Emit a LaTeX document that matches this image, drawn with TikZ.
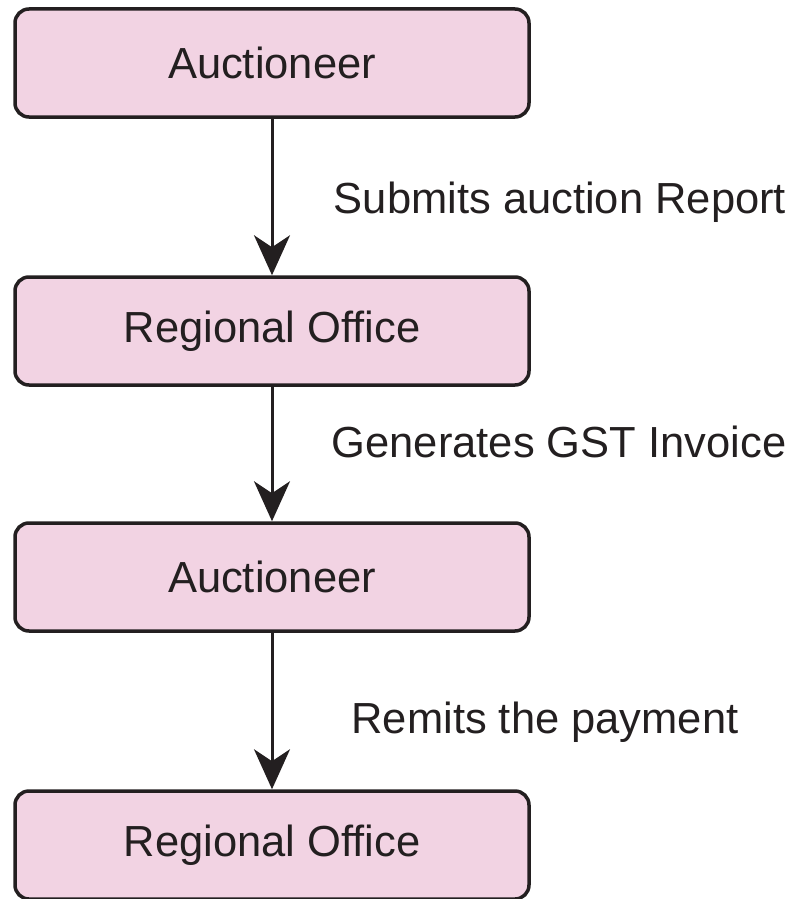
\documentclass[tikz,border=0pt]{standalone}
\usepackage{fontspec}
\setmainfont{Liberation Sans}
\usetikzlibrary{arrows.meta}
\definecolor{boxfill}{HTML}{F2D3E3}
\definecolor{ink}{HTML}{231F20}
\begin{document}
\begin{tikzpicture}[x=1pt,y=-1pt,
  flowbox/.style={draw=ink,fill=boxfill,line width=3.5pt,rounded corners=14pt,
    minimum width=514pt,minimum height=108pt,inner sep=0pt,
    font=\fontsize{43.5}{52}\selectfont,text=ink},
  lbl/.style={anchor=base,font=\fontsize{43.5}{52}\selectfont,text=ink,inner sep=0pt},
  flow/.style={draw=ink,line width=3pt,-{Stealth[length=40pt,width=36pt,inset=12pt]}}]
\useasboundingbox (0,0) rectangle (796,899);
\node[flowbox] (a1) at (272,63) {Auctioneer};
\node[flowbox] (r1) at (272,331) {Regional Office};
\node[flowbox] (a2) at (272,577) {Auctioneer};
\node[flowbox] (r2) at (272,845) {Regional Office};
\draw[flow] (a1) -- (r1);
\draw[flow] (r1) -- (a2);
\draw[flow] (a2) -- (r2);
\node[lbl] (l1) at (560,213) {Submits auction Report};
\node[lbl] (l2) at (559,457) {Generates GST Invoice};
\node[lbl] (l3) at (545,733) {Remits the payment};
\end{tikzpicture}
\end{document}
